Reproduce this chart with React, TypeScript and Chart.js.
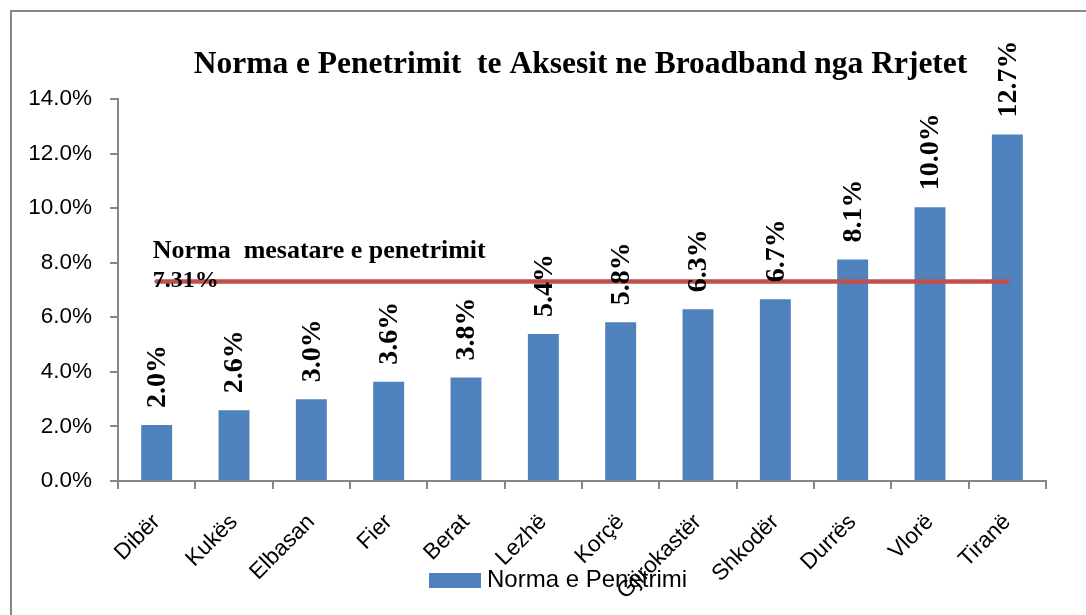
import React, { useEffect, useRef } from "react";
import { Chart, registerables } from "chart.js";

Chart.register(...registerables);

const CATEGORIES = ["Dibër", "Kukës", "Elbasan", "Fier", "Berat", "Lezhë", "Korçë", "Gjirokastër", "Shkodër", "Durrës", "Vlorë", "Tiranë"];
const PENETRATION = [2.05, 2.59, 3.0, 3.64, 3.79, 5.39, 5.82, 6.29, 6.66, 8.12, 10.03, 12.7];
const AVERAGE = 7.31;
const AVERAGE_SERIES = CATEGORIES.map(() => AVERAGE);
const Y_MIN = 0;
const Y_MAX = 14;
const Y_STEP = 2;

const TITLE = "Norma e Penetrimit  te Aksesit ne Broadband nga Rrjetet";
const SERIES_LABEL = "Norma e Penetrimi";
const AVERAGE_LABEL = "Norma  mesatare e penetrimit";
const AVERAGE_VALUE_LABEL = AVERAGE.toFixed(2) + "%";

const BAR_COLOR = "#4F81BD";
const LINE_COLOR = "#C0504D";
const AXIS_COLOR = "#868686";
const SERIF = "'Liberation Serif', 'Times New Roman', serif";
const SANS = "'Liberation Sans', Arial, sans-serif";

const labelsPlugin = {
  id: "customLabels",
  afterDatasetsDraw(chart: any) {
    const ctx = chart.ctx;
    const area = chart.chartArea;
    const barMeta = chart.getDatasetMeta(0);
    ctx.save();
    ctx.fillStyle = "#000";

    // title
    ctx.font = `bold 31.5px ${SERIF}`;
    ctx.textAlign = "center";
    ctx.textBaseline = "middle";
    ctx.fillText(TITLE, (area.left + area.right) / 2 - 1.5, 65);

    // value labels
    ctx.font = `bold 28px ${SERIF}`;
    ctx.textAlign = "left";
    ctx.textBaseline = "middle";
    barMeta.data.forEach((el: any, i: number) => {
      const v = chart.data.datasets[0].data[i] as number;
      ctx.save();
      ctx.translate(el.x + 1, el.y - 17);
      ctx.rotate(-Math.PI / 2);
      ctx.fillText(v.toFixed(1) + "%", 0, 0);
      ctx.restore();
    });

    // average line annotation
    const xs = chart.scales.x;
    const ys = chart.scales.y;
    const x0 = xs.getPixelForValue(0) - 4;
    const yLine = ys.getPixelForValue(AVERAGE);
    ctx.font = `bold 26px ${SERIF}`;
    ctx.fillText(AVERAGE_LABEL, x0, yLine - 30);
    ctx.font = `bold 24px ${SERIF}`;
    ctx.fillText(AVERAGE_VALUE_LABEL, x0, yLine - 1);

    // legend
    ctx.fillStyle = BAR_COLOR;
    ctx.fillRect(429, 573, 52, 15);
    ctx.fillStyle = "#000";
    ctx.font = `24px ${SANS}`;
    ctx.fillText(SERIES_LABEL, 487, 580);
    ctx.restore();
  },
};

export default function App() {
  const canvasRef = useRef<HTMLCanvasElement | null>(null);

  useEffect(() => {
    if (!canvasRef.current) return;
    const chart = new Chart(canvasRef.current, {
      type: "bar",
      data: {
        labels: CATEGORIES,
        datasets: [
          {
            type: "bar",
            label: SERIES_LABEL,
            data: PENETRATION,
            backgroundColor: BAR_COLOR,
            categoryPercentage: 0.8,
            barPercentage: 0.5,
            order: 2,
          },
          {
            type: "line",
            label: AVERAGE_LABEL,
            data: AVERAGE_SERIES,
            borderColor: LINE_COLOR,
            backgroundColor: LINE_COLOR,
            borderWidth: 4.5,
            borderCapStyle: "round",
            pointRadius: 0,
            fill: false,
            order: 1,
          } as any,
        ],
      },
      options: {
        animation: false,
        responsive: true,
        maintainAspectRatio: false,
        layout: { padding: { left: 0, right: 40, top: 99, bottom: 0 } },
        plugins: {
          legend: { display: false },
          tooltip: { enabled: false },
          title: { display: false },
        },
        scales: {
          x: {
            afterFit: (scale: any) => {
              scale.height = 134;
            },
            grid: {
              display: true,
              drawOnChartArea: false,
              drawTicks: true,
              tickLength: 8,
              color: AXIS_COLOR,
              lineWidth: 2,
            },
            border: { display: true, color: AXIS_COLOR, width: 2 },
            ticks: {
              autoSkip: false,
              maxRotation: 45,
              minRotation: 45,
              padding: 20,
              color: "#000",
              font: { family: SANS, size: 22.5 },
            },
          },
          y: {
            min: Y_MIN,
            max: Y_MAX,
            afterFit: (scale: any) => {
              scale.width = 118;
            },
            grid: {
              display: true,
              drawOnChartArea: false,
              drawTicks: true,
              tickLength: 8,
              color: AXIS_COLOR,
              lineWidth: 2,
            },
            border: { display: true, color: AXIS_COLOR, width: 2 },
            ticks: {
              stepSize: Y_STEP,
              padding: 18,
              color: "#000",
              font: { family: SANS, size: 22.5 },
              callback: (v: any) => Number(v).toFixed(1) + "%",
            },
          },
        },
      },
      plugins: [labelsPlugin],
    });
    return () => chart.destroy();
  }, []);

  return (
    <div style={{ position: "fixed", left: 0, top: 0, width: 1086, height: 615, background: "#fff" }}>
      <div
        style={{
          position: "absolute",
          left: 10,
          top: 10,
          width: 1076,
          height: 605,
          borderLeft: `2px solid ${AXIS_COLOR}`,
          borderTop: `2px solid ${AXIS_COLOR}`,
          boxSizing: "border-box",
        }}
      />
      <div style={{ position: "absolute", left: 0, top: 0, width: 1086, height: 615 }}>
        <canvas ref={canvasRef} />
      </div>
    </div>
  );
}
